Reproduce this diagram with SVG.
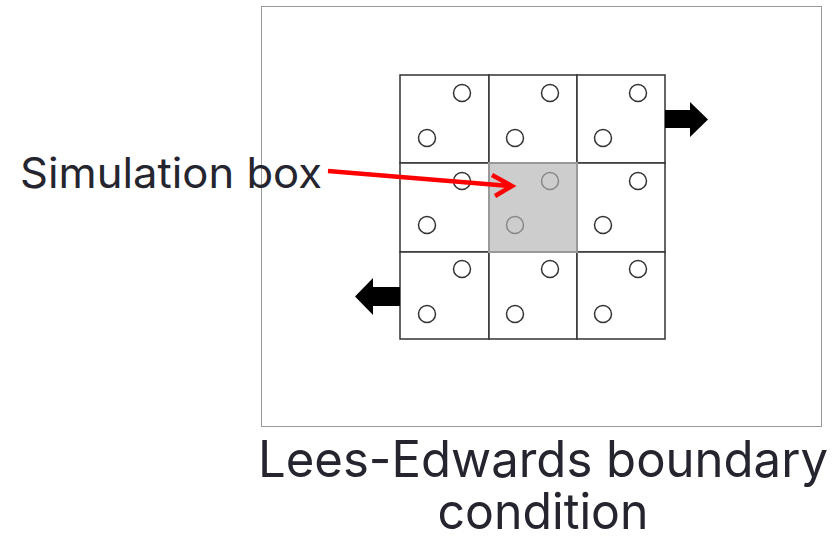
<svg xmlns="http://www.w3.org/2000/svg" width="839" height="536" viewBox="0 0 839 536">
<style>
.cell{fill:#fff;stroke:#333;stroke-width:1.5}
.p{fill:none;stroke:#333;stroke-width:1.5}
.pg{fill:none;stroke:#888;stroke-width:1.5}
.lbl{font-family:Inter,"Noto Sans",sans-serif;fill:#25252f}
</style>
<rect x="0" y="0" width="839" height="536" fill="#fff"/>
<g id="frame"><rect x="261.5" y="6.5" width="560" height="420" fill="#fff" stroke="#999" stroke-width="1"/></g>
<g id="grid">
<g id="c00"><rect class="cell" x="400" y="75" width="89" height="88"/><circle class="p" cx="462" cy="93" r="8.5"/><circle class="p" cx="427" cy="138" r="8.5"/></g>
<g id="c01"><rect class="cell" x="489" y="75" width="88" height="88"/><circle class="p" cx="550" cy="93" r="8.5"/><circle class="p" cx="515" cy="138" r="8.5"/></g>
<g id="c02"><rect class="cell" x="577" y="75" width="88" height="88"/><circle class="p" cx="638" cy="93" r="8.5"/><circle class="p" cx="603" cy="138" r="8.5"/></g>
<g id="c10"><rect class="cell" x="400" y="163" width="89" height="89"/><circle class="p" cx="462" cy="181" r="8.5"/><circle class="p" cx="427" cy="225" r="8.5"/></g>
<g id="c12"><rect class="cell" x="577" y="163" width="88" height="89"/><circle class="p" cx="638" cy="181" r="8.5"/><circle class="p" cx="603" cy="225" r="8.5"/></g>
<g id="c20"><rect class="cell" x="400" y="252" width="89" height="87"/><circle class="p" cx="462" cy="269" r="8.5"/><circle class="p" cx="427" cy="314" r="8.5"/></g>
<g id="c21"><rect class="cell" x="489" y="252" width="88" height="87"/><circle class="p" cx="550" cy="269" r="8.5"/><circle class="p" cx="515" cy="314" r="8.5"/></g>
<g id="c22"><rect class="cell" x="577" y="252" width="88" height="87"/><circle class="p" cx="638" cy="269" r="8.5"/><circle class="p" cx="603" cy="314" r="8.5"/></g>
<g id="sim-box"><rect x="489" y="163" width="88" height="89" fill="#cdcdcd" stroke="#999" stroke-width="2"/><circle class="pg" cx="550" cy="181" r="8.5"/><circle class="pg" cx="515" cy="225" r="8.5"/></g>
</g>
<g id="shear-arrows">
<polygon points="665,110 690,110 690,102 708,119.5 690,137 690,128 665,128" fill="#000"/>
<polygon points="400,287 373,287 373,278 355,296.5 373,315 373,306 400,306" fill="#000"/>
</g>
<g id="connectors">
<line x1="328" y1="171" x2="510" y2="186" stroke="#f00" stroke-width="4.5"/>
<polyline points="492,175 512,186 495,196" fill="none" stroke="#f00" stroke-width="4.5" stroke-linejoin="miter"/>
</g>
<g id="labels">
<text class="lbl" x="20" y="188" font-size="42" textLength="302" lengthAdjust="spacingAndGlyphs">Simulation box</text>
<text class="lbl" x="543" y="477" font-size="50" text-anchor="middle" textLength="570" lengthAdjust="spacingAndGlyphs">Lees-Edwards boundary</text>
<text class="lbl" x="543" y="529" font-size="50" text-anchor="middle" textLength="211" lengthAdjust="spacingAndGlyphs">condition</text>
</g>
</svg>
